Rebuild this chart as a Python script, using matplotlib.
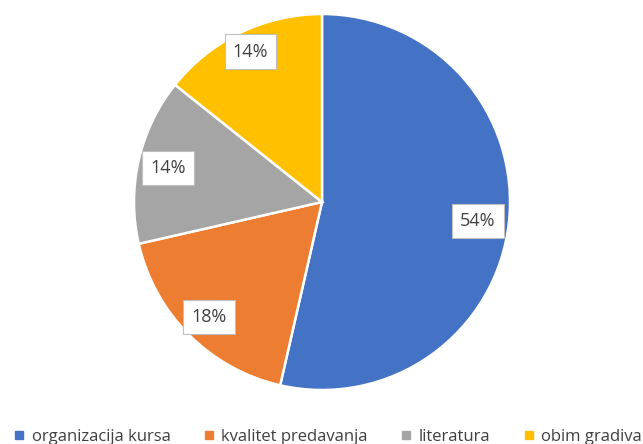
import matplotlib.pyplot as plt
from matplotlib.lines import Line2D

categories = ['organizacija kursa', 'kvalitet predavanja', 'literatura', 'obim gradiva']
values = [15, 5, 4, 4]
pct_labels = ['54%', '18%', '14%', '14%']
colors = ['#4472C4', '#ED7D31', '#A5A5A5', '#FFC000']

# label box positions (pie data coords)
label_pos = [(0.83, -0.10), (-0.60, -0.61), (-0.82, 0.18), (-0.38, 0.80)]

fig = plt.figure(figsize=(6.43, 4.44), dpi=100)
ax = fig.add_axes([134 / 643, 54 / 444, 376 / 643, 376 / 444])

ax.pie(values, colors=colors, startangle=90, counterclock=False, radius=1,
       wedgeprops=dict(edgecolor='white', linewidth=1.8))
ax.set_xlim(-1, 1)
ax.set_ylim(-1, 1)
ax.set_aspect('equal')
ax.axis('off')

for (x, y), t in zip(label_pos, pct_labels):
    ax.text(x, y, t, ha='center', va='center', fontsize=13, color='#404040',
            family='Open Sans',
            bbox=dict(boxstyle='square,pad=0.45', facecolor='white',
                      edgecolor='#BFBFBF', linewidth=0.8))

handles = [Line2D([0], [0], marker='s', linestyle='none', markersize=6,
                  markerfacecolor=c, markeredgecolor=c) for c in colors]
fig.legend(handles, categories, loc='lower center', ncol=4, frameon=False,
           bbox_to_anchor=(0.51, -0.035), handlelength=0.6, handletextpad=0.45,
           columnspacing=2.0,
           prop=dict(family='Open Sans', size=12), labelcolor='#404040')

fig.savefig('out.png', dpi=100)
